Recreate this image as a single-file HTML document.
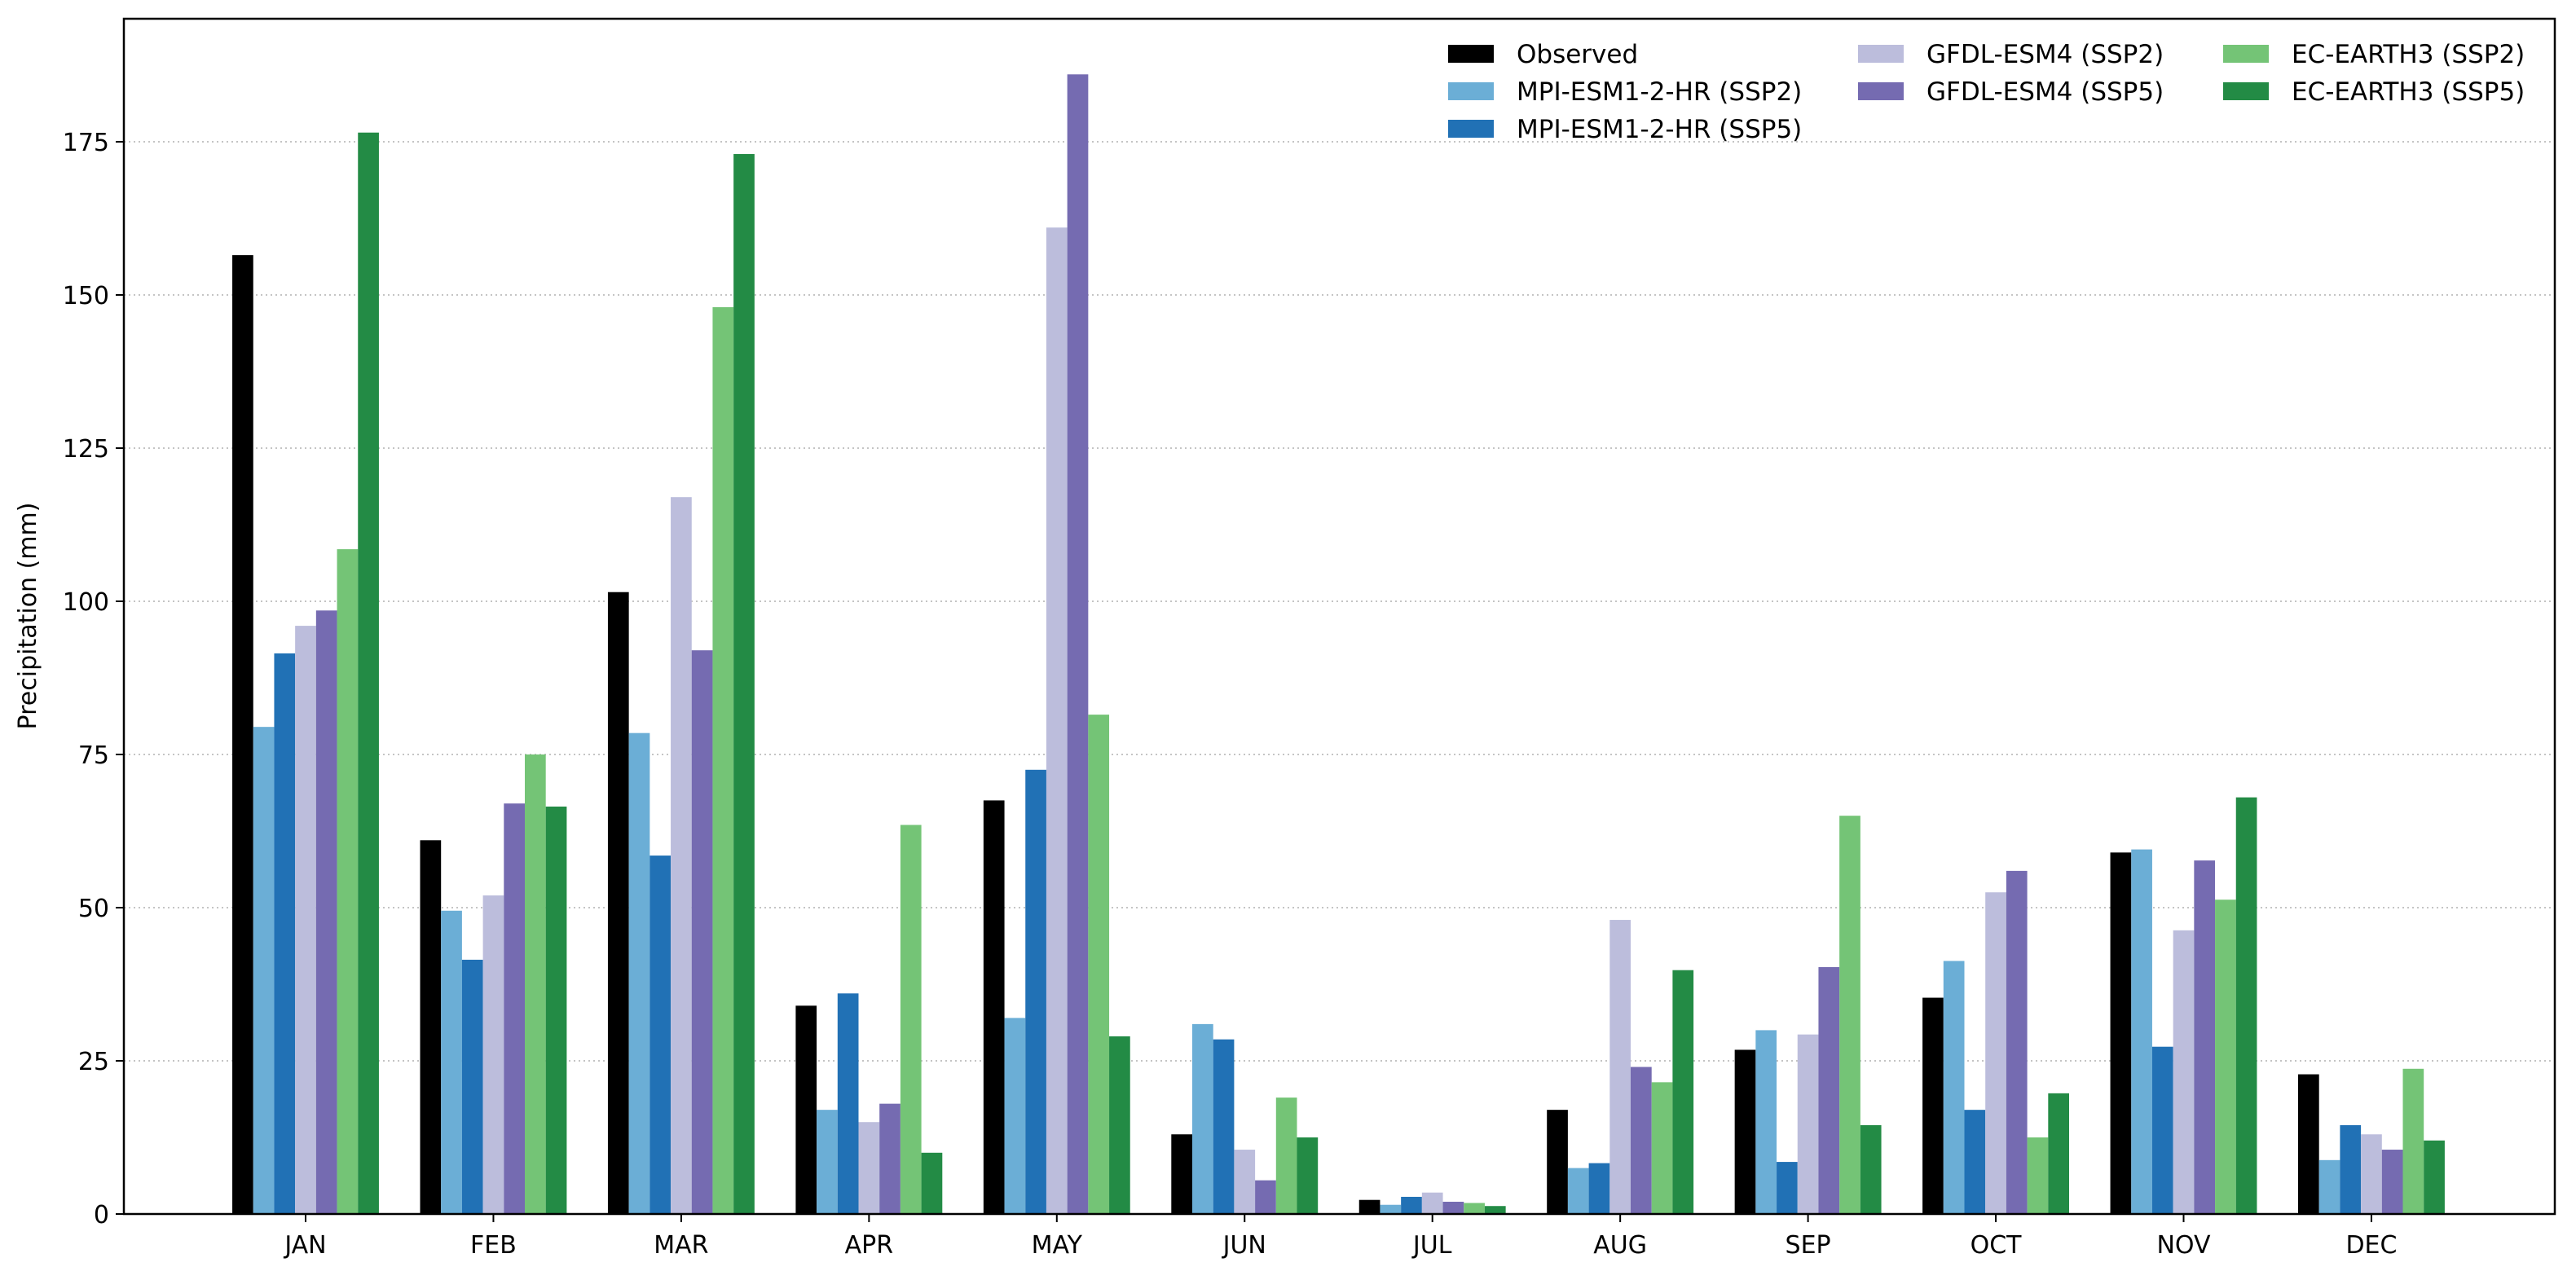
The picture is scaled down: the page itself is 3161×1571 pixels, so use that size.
<!DOCTYPE html>
<html><head><meta charset="utf-8"><style>
html,body{margin:0;padding:0;background:#fff;}
svg{display:block;font-family:"DejaVu Sans","Liberation Sans",sans-serif;}
</style></head><body>
<svg id="chart" width="3161" height="1571" viewBox="0 0 3161 1571">
<g id="grid"></g>
<g id="bars"></g>
<g id="axes"></g>
<g id="legend"></g>
<text x="44" y="756" transform="rotate(-90 44 756)" text-anchor="middle" font-size="30" fill="#000">Precipitation (mm)</text>
</svg>
<script>
const months = ["JAN","FEB","MAR","APR","MAY","JUN","JUL","AUG","SEP","OCT","NOV","DEC"];
const seriesNames = ["Observed","MPI-ESM1-2-HR (SSP2)","MPI-ESM1-2-HR (SSP5)","GFDL-ESM4 (SSP2)","GFDL-ESM4 (SSP5)","EC-EARTH3 (SSP2)","EC-EARTH3 (SSP5)"];
const seriesColors = ["#000000","#6baed6","#2171b5","#bcbddc","#756bb1","#74c476","#238b45"];
const observed = [156.5,61,101.5,34,67.5,13,2.3,17,26.8,35.3,59,22.8];
const mpiSsp2 = [79.5,49.5,78.5,17,32,31,1.5,7.5,30,41.3,59.5,8.8];
const mpiSsp5 = [91.5,41.5,58.5,36,72.5,28.5,2.8,8.3,8.5,17,27.3,14.5];
const gfdlSsp2 = [96,52,117,15,161,10.5,3.5,48,29.3,52.5,46.3,13];
const gfdlSsp5 = [98.5,67,92,18,186,5.5,2,24,40.3,56,57.7,10.5];
const ecSsp2 = [108.5,75,148,63.5,81.5,19,1.8,21.5,65,12.5,51.3,23.7];
const ecSsp5 = [176.5,66.5,173,10,29,12.5,1.3,39.8,14.5,19.7,68,12];
const yTicks = [0,25,50,75,100,125,150,175];

const series = [observed,mpiSsp2,mpiSsp5,gfdlSsp2,gfdlSsp5,ecSsp2,ecSsp5];
const NS="http://www.w3.org/2000/svg";
const L=152,R=3135,T=23,B=1490;
const ppu=7.52, step=230.45, x0=375, bw=25.7;
const y=v=>B-v*ppu;
const xc=i=>x0+i*step;
function mk(tag,attrs,parent){const e=document.createElementNS(NS,tag);for(const k in attrs)e.setAttribute(k,attrs[k]);parent.appendChild(e);return e;}
const grid=document.getElementById('grid'),bars=document.getElementById('bars'),axes=document.getElementById('axes'),leg=document.getElementById('legend');
yTicks.forEach(t=>{
  const g=mk('line',{x1:L,x2:R,y1:y(t),y2:y(t),stroke:'#b0b0b0','stroke-width':1.5,'stroke-dasharray':'2,4'},grid);
  
  
});
series.forEach((s,si)=>{
  s.forEach((v,i)=>{
    const r=mk('rect',{x:xc(i)+(si-3.5)*bw,y:y(v),width:bw,height:v*ppu,fill:seriesColors[si]},bars);
    
    
  });
});
const frame=mk('rect',{x:L,y:T,width:R-L,height:B-T,fill:'none',stroke:'#000','stroke-width':2.5},axes);


yTicks.forEach(t=>{
  mk('line',{x1:L-10,x2:L,y1:y(t),y2:y(t),stroke:'#000','stroke-width':2},axes);
  const tx=mk('text',{x:L-18,y:y(t)+11,'text-anchor':'end','font-size':30,fill:'#000'},axes);
  tx.textContent=t;
  
  
});
months.forEach((m,i)=>{
  mk('line',{x1:xc(i),x2:xc(i),y1:B,y2:B+10,stroke:'#000','stroke-width':2},axes);
  const tx=mk('text',{x:xc(i),y:B+48,'text-anchor':'middle','font-size':30,fill:'#000'},axes);
  tx.textContent=m;
  
  
});
const lx=[1777,2280,2728],ly=[66,112,158];
const pos=[[0,0],[0,1],[0,2],[1,0],[1,1],[2,0],[2,1]];
seriesNames.forEach((n,si)=>{
  const [c,r]=pos[si];
  const p=mk('rect',{x:lx[c],y:ly[r]-11,width:56,height:22,fill:seriesColors[si]},leg);
  
  
  const t=mk('text',{x:lx[c]+84,y:ly[r]+11,'font-size':31,fill:'#000'},leg);
  t.textContent=n;
  
  
});
</script>
</body></html>
